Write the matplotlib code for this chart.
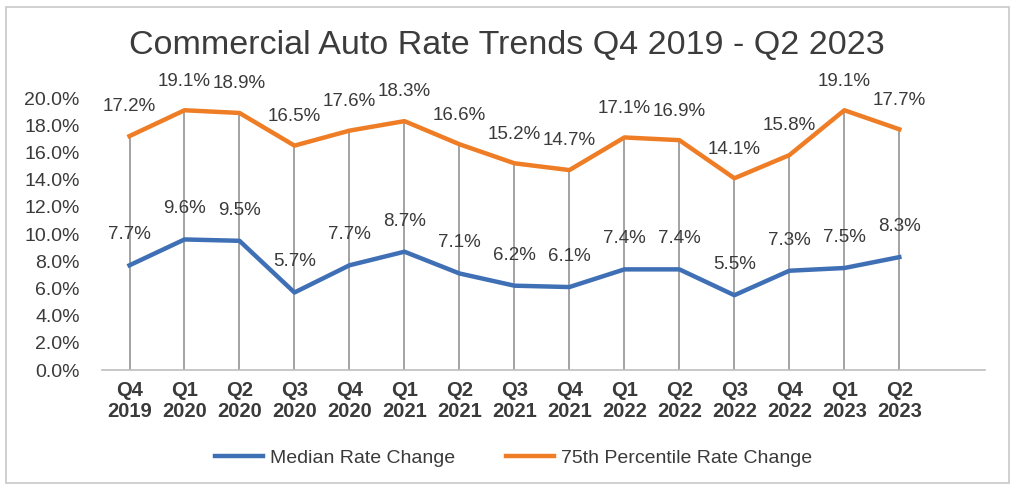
import matplotlib.pyplot as plt
from matplotlib.patches import Rectangle

plt.rcParams['font.family'] = ['Liberation Sans', 'DejaVu Sans']

# quarters and rates (percent)
quarters = ['Q4\n2019', 'Q1\n2020', 'Q2\n2020', 'Q3\n2020', 'Q4\n2020',
            'Q1\n2021', 'Q2\n2021', 'Q3\n2021', 'Q4\n2021', 'Q1\n2022',
            'Q2\n2022', 'Q3\n2022', 'Q4\n2022', 'Q1\n2023', 'Q2\n2023']
median = [7.7, 9.6, 9.5, 5.7, 7.7, 8.7, 7.1, 6.2, 6.1, 7.4, 7.4, 5.5, 7.3, 7.5, 8.3]
pct75 = [17.2, 19.1, 18.9, 16.5, 17.6, 18.3, 16.6, 15.2, 14.7, 17.1, 16.9, 14.1, 15.8, 19.1, 17.7]

blue = '#3f6fb5'
orange = '#ee7d26'
txt = '#3a3a3a'

fig = plt.figure(figsize=(10.15, 4.95), dpi=100)
ax = fig.add_axes([0.1005, 0.2525, 0.8695, 0.5495])

x = list(range(len(quarters)))

# drop lines from the upper series to the axis
ax.vlines(x, 0, pct75, color='#8a8a8a', lw=1.1, zorder=1)

ax.plot(x, median, color=blue, lw=3.2, label='Median Rate Change', zorder=3)
ax.plot(x, pct75, color=orange, lw=3.2, label='75th Percentile Rate Change', zorder=3)

for xi, v in zip(x, median):
    ax.annotate(f'{v:.1f}%', (xi, v), xytext=(0, 22), textcoords='offset points',
                ha='center', va='center', fontsize=13.5, color=txt)
for xi, v in zip(x, pct75):
    ax.annotate(f'{v:.1f}%', (xi, v), xytext=(0, 21), textcoords='offset points',
                ha='center', va='center', fontsize=13.5, color=txt)

ax.set_xlim(-0.5, 15.55)
ax.set_ylim(0, 20)
ax.set_xticks(x)
ax.set_xticklabels(quarters, fontsize=14.5, fontweight='bold', color=txt, linespacing=1.1)
ax.set_yticks(range(0, 21, 2))
ax.set_yticklabels([f'{v:.1f}%' for v in range(0, 21, 2)], fontsize=14, color=txt)
ax.tick_params(axis='both', length=0)
ax.tick_params(axis='y', pad=16)
ax.tick_params(axis='x', pad=8)

for s in ['top', 'right', 'left']:
    ax.spines[s].set_visible(False)
ax.spines['bottom'].set_color('#bdbdbd')
ax.spines['bottom'].set_linewidth(1.2)

fig.text(0.499, 0.909, 'Commercial Auto Rate Trends Q4 2019 - Q2 2023',
         ha='center', va='center', fontsize=24.5, color='#3c3c3c')

fig.legend(loc='center', bbox_to_anchor=(0.506, 0.074), ncol=2, frameon=False,
           fontsize=14, handlelength=2.5, handletextpad=0.35, columnspacing=2.6,
           labelcolor=txt)

# outer chart frame
fig.patches.append(Rectangle((0.006, 0.024), 0.988, 0.962, transform=fig.transFigure,
                             fill=False, edgecolor='#c8c8c8', lw=1.2))

fig.savefig('out.png', dpi=100, facecolor='white')
